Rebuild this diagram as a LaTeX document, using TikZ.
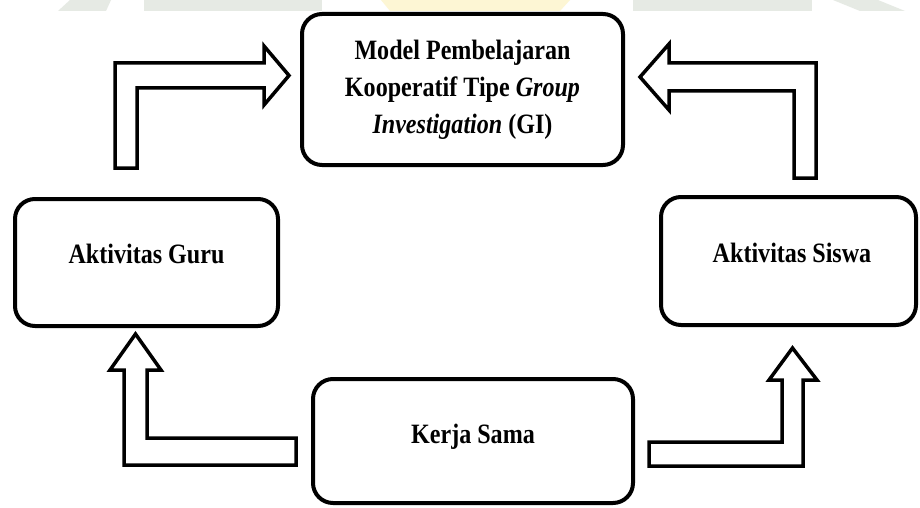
\documentclass[tikz,border=0pt]{standalone}
\usepackage{fontspec}
\setmainfont{Liberation Serif}[FakeStretch=0.86]
\begin{document}
\begin{tikzpicture}[x=1pt,y=-1pt,
  box/.style={draw=black, line width=4pt, rounded corners=20pt, fill=white, inner sep=0pt},
  lbl/.style={font=\fontsize{28}{37}\selectfont\bfseries, text=black, align=center, inner sep=0pt},
  blockarrow/.style={draw=black, line width=3.5pt, fill=white, line join=miter},
  wm/.style={draw=none}]
\useasboundingbox[fill=white] (0,0) rectangle (920,508);
% faint watermark remains at the top edge
\fill[wm, fill={rgb,255:red,230;green,234;blue,228}] (58,11) -- (70,0) -- (111,0) -- (106,11) -- cycle;
\fill[wm, fill={rgb,255:red,230;green,234;blue,228}] (144,0) rectangle (322,11);
\fill[wm, fill={rgb,255:red,253;green,246;blue,212}] (381,0) -- (570,0) -- (560,11) -- (390,11) -- cycle;
\fill[wm, fill={rgb,255:red,230;green,234;blue,228}] (633,0) rectangle (812,11);
\fill[wm, fill={rgb,255:red,230;green,234;blue,228}] (833,0) -- (878,0) -- (905,11) -- (860,11) -- cycle;

% boxes
\node[box, minimum width=321pt, minimum height=151pt, lbl] (model) at (462.5,89.5)
  {Model Pembelajaran\\Kooperatif Tipe \textit{Group}\\\textit{Investigation} (GI)};
\node[box, minimum width=263pt, minimum height=127pt] (guru) at (146.5,262.5) {};
\node[box, minimum width=255pt, minimum height=128pt] (siswa) at (788.5,261) {};
\node[box, minimum width=320pt, minimum height=124pt] (kerja) at (473,441) {};
\node[lbl, anchor=base] (gurut) at (146.5,263) {Aktivitas Guru};
\node[lbl, anchor=base] (siswat) at (792,262) {Aktivitas Siswa};
\node[lbl, anchor=base] (kerjat) at (473,443) {Kerja Sama};

% block arrows
\draw[blockarrow] (115,168) -- (115,63) -- (264,63) -- (264,46) -- (289,75.5)
  -- (264,105) -- (264,88) -- (137,88) -- (137,168) -- cycle;
\draw[blockarrow] (816,178) -- (816,63) -- (669,63) -- (669,44) -- (640,77)
  -- (669,110) -- (669,91) -- (794,91) -- (794,178) -- cycle;
\draw[blockarrow] (296,438) -- (147,438) -- (147,370) -- (161,370) -- (135.5,334)
  -- (110,370) -- (124,370) -- (124,465) -- (296,465) -- cycle;
\draw[blockarrow] (649,442) -- (782,442) -- (782,380) -- (769,380) -- (792.5,348)
  -- (817,380) -- (803,380) -- (803,466) -- (649,466) -- cycle;
\end{tikzpicture}
\end{document}
